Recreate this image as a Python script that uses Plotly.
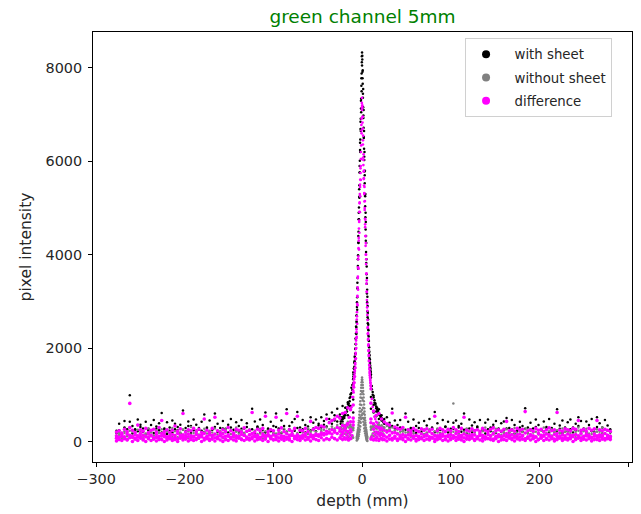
import plotly.graph_objects as go

# ---------------- background band: depth positions (mm) ----------------
depth_mm = [
    -277, -274, -271, -268, -265, -262, -259, -256, -253, -250,
    -247, -244, -241, -238, -235, -232, -229, -226, -223, -220,
    -217, -214, -211, -208, -205, -202, -199, -196, -193, -190,
    -187, -184, -181, -178, -175, -172, -169, -166, -163, -160,
    -157, -154, -151, -148, -145, -142, -139, -136, -133, -130,
    -127, -124, -121, -118, -115, -112, -109, -106, -103, -100,
    -97, -94, -91, -88, -85, -82, -79, -76, -73, -70,
    -67, -64, -61, -58, -55, -52, -49, -46, -43, -40,
    -37, -34, -31, -28, -25, -22, -19, -16, -13, -10,
    10, 13, 16, 19, 22, 25, 28, 31, 34, 37,
    40, 43, 46, 49, 52, 55, 58, 61, 64, 67,
    70, 73, 76, 79, 82, 85, 88, 91, 94, 97,
    100, 103, 106, 109, 112, 115, 118, 121, 124, 127,
    130, 133, 136, 139, 142, 145, 148, 151, 154, 157,
    160, 163, 166, 169, 172, 175, 178, 181, 184, 187,
    190, 193, 196, 199, 202, 205, 208, 211, 214, 217,
    220, 223, 226, 229, 232, 235, 238, 241, 244, 247,
    250, 253, 256, 259, 262, 265, 268, 271, 274, 277,
    280,
]

with_sheet_a = [
    230, 380, 180, 440, 260, 990, 330, 250, 470, 360,
    280, 420, 240, 350, 460, 270, 390, 607, 250, 410,
    300, 450, 380, 240, 360, 665, 290, 430, 330, 470,
    360, 250, 420, 575, 300, 450, 260, 600, 380, 290,
    440, 270, 360, 480, 250, 410, 330, 460, 280, 390,
    250, 700, 430, 300, 470, 350, 620, 260, 420, 330,
    600, 280, 450, 330, 690, 260, 410, 480, 630, 300,
    460, 350, 280, 520, 400, 470, 380, 520, 440, 575,
    480, 620, 560, 700, 580, 760, 720, 840, 760, 900,
    950, 780, 640, 690, 560, 480, 520, 400, 700, 450,
    350, 460, 280, 600, 420, 290, 470, 330, 400, 260,
    440, 340, 480, 270, 630, 390, 250, 460, 320, 420,
    270, 400, 450, 300, 380, 600, 260, 470, 340, 410,
    320, 460, 250, 400, 470, 300, 360, 440, 280, 390,
    430, 500, 290, 460, 350, 270, 420, 330, 710, 300,
    400, 280, 470, 350, 260, 430, 310, 480, 290, 380,
    690, 340, 450, 260, 410, 470, 300, 380, 520, 440,
    280, 430, 350, 480, 260, 520, 390, 300, 460, 340,
    260,
]

with_sheet_b = [
    180, 240, 150, 300, 210, 420, 170, 260, 220, 310,
    200, 150, 270, 230, 180, 320, 240, 190, 280, 160,
    230, 190, 260, 310, 170, 250, 220, 330, 180, 240,
    160, 290, 230, 200, 270, 180, 250, 310, 200, 170,
    280, 220, 190, 300, 160, 240, 210, 270, 180, 310,
    230, 260, 170, 320, 200, 250, 190, 280, 220, 170,
    310, 240, 180, 260, 210, 330, 170, 230, 290, 200,
    260, 190, 320, 240, 280, 220, 340, 300, 360, 320,
    410, 380, 450, 430, 520, 480, 600, 560, 680, 620,
    700, 620, 540, 480, 450, 380, 360, 310, 330, 280,
    260, 300, 220, 250, 190, 270, 230, 180, 290, 210,
    250, 170, 230, 300, 200, 260, 180, 240, 310, 190,
    220, 270, 180, 330, 210, 250, 160, 280, 200, 240,
    300, 190, 230, 170, 260, 220, 310, 180, 250, 200,
    240, 280, 190, 260, 170, 230, 300, 210, 270, 180,
    260, 200, 310, 170, 240, 220, 280, 190, 250, 230,
    200, 270, 180, 300, 220, 260, 190, 240, 330, 210,
    250, 180, 290, 220, 200, 310, 240, 170, 260, 230,
    190,
]

without_sheet_a = [
    120, 180, 90, 220, 150, 300, 200, 160, 250, 140,
    230, 170, 280, 190, 130, 240, 180, 260, 150, 210,
    170, 290, 140, 230, 190, 250, 160, 220, 310, 180,
    240, 150, 200, 270, 170, 230, 190, 280, 150, 220,
    180, 260, 140, 230, 190, 300, 170, 240, 160, 210,
    250, 180, 230, 160, 270, 190, 220, 150, 260, 200,
    170, 240, 190, 280, 160, 230, 200, 260, 180, 250,
    210, 170, 290, 200, 240, 180, 270, 220, 250, 300,
    260, 320, 280, 350, 300, 380, 330, 420, 360, 300,
    320, 380, 300, 400, 340, 290, 330, 260, 300, 240,
    270, 210, 250, 190, 260, 220, 180, 240, 200, 170,
    230, 190, 260, 160, 220, 280, 180, 240, 200, 260,
    190, 815, 230, 170, 250, 200, 280, 160, 230, 190,
    260, 180, 220, 300, 170, 240, 200, 270, 150, 230,
    190, 260, 170, 230, 290, 180, 240, 200, 260, 170,
    230, 190, 270, 160, 240, 300, 180, 220, 260, 190,
    240, 170, 280, 200, 230, 180, 260, 210, 300, 190,
    220, 270, 170, 240, 190, 260, 210, 300, 180, 230,
    200,
]

without_sheet_b = [
    90, 140, 60, 180, 110, 230, 80, 150, 120, 200,
    70, 160, 100, 210, 130, 80, 190, 110, 170, 60,
    140, 100, 220, 90, 160, 120, 200, 70, 150, 110,
    180, 60, 140, 200, 100, 170, 80, 150, 230, 120,
    70, 190, 110, 160, 90, 210, 130, 60, 180, 100,
    150, 80, 200, 120, 170, 70, 140, 230, 100, 160,
    90, 190, 130, 60, 210, 110, 170, 80, 150, 120,
    190, 100, 160, 230, 140, 210, 120, 250, 180, 220,
    200, 280, 240, 310, 270, 340, 300, 380, 320, 280,
    300, 340, 280, 350, 260, 300, 240, 280, 200, 230,
    180, 150, 220, 120, 190, 100, 170, 140, 210, 90,
    160, 130, 200, 80, 150, 190, 110, 170, 60, 140,
    120, 210, 90, 160, 130, 70, 190, 110, 150, 200,
    80, 170, 130, 60, 210, 100, 150, 190, 90, 140,
    170, 120, 200, 80, 160, 110, 220, 140, 70, 180,
    130, 90, 210, 150, 110, 190, 60, 160, 130, 200,
    100, 180, 140, 70, 210, 120, 160, 90, 230, 150,
    110, 190, 80, 160, 130, 210, 100, 170, 60, 140,
    120,
]

difference_1 = [
    10, 40, 20, 60, 30, 80, 0, 50, 20, 70,
    30, 0, 60, 20, 50, 10, 70, 40, 0, 30,
    60, 20, 40, 0, 70, 30, 50, 10, 60, 20,
    40, 80, 0, 30, 60, 20, 50, 10, 70, 30,
    0, 50, 20, 60, 30, 10, 70, 40, 20, 50,
    30, 60, 10, 40, 70, 20, 50, 0, 60, 30,
    40, 10, 70, 20, 50, 30, 0, 60, 40, 20,
    70, 30, 50, 10, 60, 40, 20, 80, 30, 60,
    40, 90, 60, 30, 80, 50, 70, 40, 60, 350,
    50, 30, 70, 20, 60, 40, 10, 50, 30, 70,
    20, 60, 40, 0, 50, 30, 70, 10, 40, 60,
    20, 50, 30, 70, 0, 40, 60, 20, 50, 10,
    40, 70, 20, 60, 30, 0, 50, 40, 70, 20,
    60, 30, 10, 50, 70, 40, 20, 60, 0, 30,
    50, 20, 70, 40, 10, 60, 30, 50, 20, 70,
    30, 60, 0, 40, 70, 20, 50, 30, 60, 10,
    40, 70, 20, 50, 30, 60, 0, 40, 70, 20,
    50, 30, 60, 10, 40, 70, 20, 50, 30, 60,
    40,
]

difference_2 = [
    70, 50, 110, 80, 40, 130, 90, 60, 120, 100,
    50, 110, 80, 130, 60, 90, 40, 120, 100, 70,
    110, 60, 90, 50, 130, 80, 120, 100, 40, 90,
    60, 120, 100, 70, 110, 50, 130, 80, 60, 120,
    90, 40, 110, 80, 120, 70, 100, 50, 130, 90,
    60, 100, 130, 70, 50, 110, 80, 120, 90, 40,
    120, 80, 50, 110, 90, 60, 130, 70, 100, 50,
    90, 120, 60, 100, 80, 130, 110, 150, 140, 160,
    180, 160, 200, 170, 220, 190, 240, 210, 250, 420,
    400, 260, 200, 180, 150, 120, 90, 130, 70, 110,
    50, 100, 80, 120, 60, 130, 90, 40, 110, 70,
    100, 130, 60, 90, 50, 120, 80, 110, 40, 100,
    70, 120, 90, 50, 130, 80, 60, 110, 100, 40,
    90, 130, 70, 100, 60, 120, 50, 80, 110, 90,
    40, 100, 130, 70, 110, 60, 90, 120, 50, 80,
    120, 70, 100, 40, 90, 130, 60, 110, 80, 50,
    110, 90, 60, 120, 70, 100, 130, 50, 90, 80,
    60, 120, 100, 70, 110, 40, 90, 130, 60, 100,
    80,
]

difference_3 = [
    120, 90, 150, 100, 160, 300, 110, 140, 90, 170,
    130, 100, 160, 120, 80, 150, 110, 170, 140, 100,
    90, 150, 120, 170, 100, 140, 80, 160, 120, 110,
    150, 100, 130, 170, 90, 140, 120, 160, 100, 130,
    160, 110, 140, 90, 170, 120, 100, 150, 130, 80,
    140, 170, 100, 130, 90, 160, 120, 150, 110, 140,
    100, 160, 120, 90, 170, 130, 150, 110, 140, 100,
    130, 170, 90, 150, 120, 160, 140, 180, 170, 220,
    200, 250, 230, 300, 270, 340, 320, 380, 420, 500,
    480, 380, 320, 300, 280, 240, 200, 230, 180, 190,
    160, 120, 150, 100, 140, 170, 110, 130, 90, 160,
    120, 150, 100, 170, 130, 90, 140, 160, 110, 130,
    150, 100, 170, 120, 90, 160, 130, 110, 150, 140,
    100, 160, 130, 90, 150, 120, 170, 110, 140, 100,
    130, 170, 110, 150, 90, 140, 160, 120, 180, 100,
    150, 120, 90, 170, 130, 110, 160, 140, 100, 150,
    170, 110, 140, 90, 160, 130, 100, 150, 120, 170,
    110, 150, 130, 90, 160, 120, 140, 100, 170, 130,
    110,
]

difference_4 = [
    200, 230, 180, 260, 210, 815, 240, 190, 350, 250,
    220, 280, 190, 240, 260, 200, 300, 450, 210, 250,
    190, 240, 330, 220, 270, 600, 200, 250, 230, 280,
    210, 260, 190, 480, 240, 200, 280, 520, 230, 190,
    250, 210, 300, 230, 180, 260, 240, 200, 290, 220,
    240, 620, 200, 260, 230, 280, 540, 210, 250, 230,
    520, 240, 290, 210, 600, 250, 220, 280, 540, 240,
    230, 280, 210, 430, 260, 300, 280, 330, 310, 480,
    400, 450, 480, 540, 500, 600, 620, 720, 680, 780,
    820, 650, 560, 600, 480, 420, 380, 350, 610, 310,
    280, 260, 300, 520, 250, 230, 280, 240, 210, 270,
    240, 270, 220, 260, 540, 230, 280, 250, 210, 260,
    230, 300, 250, 210, 280, 520, 240, 220, 270, 230,
    250, 220, 280, 240, 210, 260, 290, 230, 250, 220,
    260, 430, 230, 250, 220, 280, 240, 260, 640, 230,
    250, 220, 280, 240, 260, 210, 250, 290, 230, 250,
    620, 240, 220, 270, 250, 230, 280, 260, 450, 240,
    260, 220, 280, 240, 270, 450, 250, 230, 260, 240,
    220,
]

# ---------------- central peak ----------------
peak_depth = [
    -24, -23, -22, -21, -20, -19, -18, -17, -16, -15, -14, -13, -12, -11,
    -10, -9.75, -9.5, -9.25, -9, -8.75, -8.5, -8.25, -8, -7.75,
    -7.5, -7.25, -7, -6.75, -6.5, -6.25, -6, -5.75, -5.5, -5.25,
    -5, -4.75, -4.5, -4.25, -4, -3.75, -3.5, -3.25, -3, -2.75,
    -2.5, -2.25, -2, -1.75, -1.5, -1.25, -1, -0.75, -0.5, -0.25,
    0,
    0.25, 0.5, 0.75, 1, 1.25, 1.5, 1.75, 2, 2.25, 2.5,
    2.75, 3, 3.25, 3.5, 3.75, 4, 4.25, 4.5, 4.75, 5,
    5.25, 5.5, 5.75, 6, 6.25, 6.5, 6.75, 7, 7.25, 7.5,
    7.75, 8, 8.25, 8.5, 8.75, 9, 9.25, 9.5, 9.75, 10,
    11, 12, 13, 14, 15, 16, 17, 18, 19, 20, 21, 22, 23, 24,
]

peak_with_a = [
    430, 470, 480, 530, 550, 610, 630, 700, 730, 810, 860, 960, 1040, 1210,
    1330, 1390, 1440, 1480, 1560, 1600, 1680, 1730, 1800, 1880,
    1990, 2090, 2210, 2320, 2440, 2570, 2690, 2880, 3090, 3290,
    3500, 3760, 3990, 4260, 4490, 4760, 5010, 5240, 5490, 5760,
    6010, 6240, 6470, 6690, 6910, 7130, 7340, 7620, 7880, 8120,
    8330,
    8180, 7920, 7660, 7360, 7160, 6930, 6720, 6500, 6270, 6030,
    5780, 5530, 5280, 5040, 4800, 4540, 4300, 4060, 3820, 3580,
    3380, 3170, 2980, 2790, 2660, 2530, 2410, 2280, 2170, 2060,
    1960, 1870, 1790, 1720, 1650, 1590, 1530, 1480, 1420, 1370,
    1190, 1060, 940, 880, 790, 750, 680, 650, 590, 570, 510, 500, 450, 440,
]

peak_with_b = [
    380, 520, 430, 600, 500, 560, 720, 640, 800, 760, 930, 1010, 1150, 1100,
    1250, 1480, 1350, 1560, 1460, 1700, 1560, 1820, 1690, 1980,
    1880, 2200, 2080, 2460, 2300, 2700, 2540, 2980, 2820, 3400,
    3270, 3900, 3700, 4400, 4250, 4900, 4760, 5400, 5220, 5900,
    5760, 6400, 6200, 6850, 6650, 7300, 7050, 7780, 7500, 8250,
    8050,
    8260, 7780, 7950, 7450, 7550, 6980, 7100, 6520, 6650, 6100,
    6200, 5700, 5800, 5250, 5300, 4900, 4700, 4400, 4250, 3900,
    3750, 3500, 3250, 3100, 2900, 2750, 2620, 2500, 2380, 2250,
    2150, 2020, 1920, 1840, 1760, 1680, 1620, 1560, 1500, 1440,
    1120, 1000, 980, 830, 820, 710, 720, 620, 610, 560, 540, 480, 470, 410,
]

peak_without_a = [
    300, 260, 330, 280, 310, 350, 290, 320, 370, 300, 340, 280, 310, 260,
    240, None, None, None, None, None, None, None, None, None,
    None, None, None, None, None, None, 80, 110, 140, 170,
    200, 230, 260, 300, 350, 400, 450, 510, 570, 640,
    710, 790, 860, 940, 1010, 1080, 1150, 1210, 1270, 1320,
    1370,
    1320, 1270, 1210, 1150, 1080, 1010, 940, 860, 790, 710,
    640, 570, 510, 450, 400, 350, 300, 260, 230, 200,
    170, 140, 110, 80, None, None, None, None, None, None,
    None, None, None, None, None, None, None, None, None, 250,
    280, 320, 290, 350, 310, 330, 280, 360, 300, 320, 270, 340, 290, 310,
]

peak_without_b = [
    150, 200, 120, 180, 90, 160, 210, 130, 170, 100, 190, 140, 60, 110,
    80, None, None, None, None, None, None, None, None, None,
    None, None, None, None, None, None, 20, 60, 30, 90,
    50, 120, 70, 160, 110, 210, 150, 260, 200, 330,
    250, 420, 320, 520, 400, 640, 480, 780, 560, 930,
    680,
    1050, 600, 880, 500, 720, 420, 600, 350, 480, 280,
    380, 220, 300, 170, 230, 120, 170, 80, 120, 40,
    70, 20, 50, 10, None, None, None, None, None, None,
    None, None, None, None, None, None, None, None, None, 90,
    130, 170, 110, 200, 140, 180, 100, 210, 160, 120, 190, 150, 230, 170,
]

peak_difference_a = [
    130, 210, 150, 250, 240, 260, 340, 380, 360, 510, 520, 680, 730, 950,
    1090, 1160, 1210, 1250, 1330, 1370, 1450, 1500, 1570, 1650,
    1760, 1860, 1980, 2090, 2210, 2340, 2610, 2770, 2950, 3120,
    3300, 3530, 3730, 3960, 4140, 4360, 4560, 4730, 4920, 5120,
    5300, 5450, 5610, 5750, 5900, 6050, 6340, 6660, 6910, 7150,
    7360,
    7160, 6950, 6700, 6360, 6080, 5920, 5780, 5640, 5480, 5320,
    5140, 4960, 4770, 4590, 4400, 4190, 4000, 3800, 3590, 3380,
    3210, 3030, 2870, 2710, 2430, 2300, 2180, 2050, 1940, 1830,
    1730, 1640, 1560, 1490, 1420, 1360, 1300, 1250, 1190, 1120,
    910, 740, 650, 530, 480, 420, 400, 290, 290, 250, 240, 160, 160, 130,
]

peak_difference_b = [
    60, 120, 30, 180, 90, 40, 150, 70, 110, 20, 160, 80, 200, 130,
    950, 1180, 1050, 1260, 1160, 1400, 1260, 1520, 1390, 1680,
    1580, 1900, 1780, 2160, 2000, 2400, 2240, 2680, 2520, 3100,
    2920, 3500, 3250, 3900, 3700, 4300, 4110, 4700, 4470, 5100,
    4910, 5500, 5250, 5850, 5600, 6200, 6050, 6780, 6600, 7250,
    7100,
    7200, 6830, 6950, 6450, 6550, 6030, 6150, 5620, 5800, 5300,
    5450, 5000, 5150, 4650, 4750, 4400, 4250, 4000, 3900, 3600,
    3450, 3200, 2950, 2800, 2600, 2450, 2320, 2200, 2080, 1950,
    1850, 1720, 1620, 1540, 1460, 1380, 1320, 1260, 1200, 1140,
    100, 40, 170, 60, 130, 20, 90, 150, 50, 120, 70, 180, 30, 110,
]

series_names = ["with sheet", "without sheet", "difference"]
series_colors = ["#000000", "#808080", "#ff00ff"]
x_ticks = [-300, -200, -100, 0, 100, 200, 300]
x_tick_text = ["\u2212300", "\u2212200", "\u2212100", "0", "100", "200", "300"]
y_ticks = [0, 2000, 4000, 6000, 8000]

for nm, arr in [("wa", with_sheet_a), ("wb", with_sheet_b), ("woa", without_sheet_a),
                ("wob", without_sheet_b), ("d1", difference_1), ("d2", difference_2),
                ("d3", difference_3), ("d4", difference_4)]:
    assert len(arr) == len(depth_mm), (nm, len(arr), len(depth_mm))
for nm, arr in [("pwa", peak_with_a), ("pwb", peak_with_b), ("pwoa", peak_without_a),
                ("pwob", peak_without_b), ("pda", peak_difference_a), ("pdb", peak_difference_b)]:
    assert len(arr) == len(peak_depth), (nm, len(arr), len(peak_depth))

FONT = "DejaVu Sans"
fig = go.Figure()

fig.add_trace(go.Scatter(
    x=depth_mm * 2 + peak_depth * 2,
    y=with_sheet_a + with_sheet_b + peak_with_a + peak_with_b,
    mode="markers", marker=dict(color=series_colors[0], size=2.5, line=dict(width=0)),
    showlegend=False, hoverinfo="skip"))
fig.add_trace(go.Scatter(
    x=depth_mm * 2 + peak_depth * 2,
    y=without_sheet_a + without_sheet_b + peak_without_a + peak_without_b,
    mode="markers", marker=dict(color=series_colors[1], size=2.5, line=dict(width=0)),
    showlegend=False, hoverinfo="skip"))
fig.add_trace(go.Scatter(
    x=depth_mm * 4,
    y=difference_1 + difference_2 + difference_3 + difference_4,
    mode="markers", marker=dict(color=series_colors[2], size=3.6, line=dict(width=0)),
    showlegend=False, hoverinfo="skip"))
fig.add_trace(go.Scatter(
    x=peak_depth * 2,
    y=peak_difference_a + peak_difference_b,
    mode="markers", marker=dict(color=series_colors[2], size=2.7, line=dict(width=0)),
    showlegend=False, hoverinfo="skip"))

for nm, col in zip(series_names, series_colors):
    fig.add_trace(go.Scatter(
        x=[None], y=[None], mode="markers", name="\u00a0\u00a0" + nm, legendgroup=nm,
        marker=dict(color=col, size=8)))

fig.update_layout(
    width=641, height=514,
    margin=dict(l=93, r=9, t=32, b=52),
    paper_bgcolor="white", plot_bgcolor="white",
    font=dict(family=FONT, size=14.4, color="#262626"),
    title=dict(text="green channel 5mm", font=dict(family=FONT, size=18.5, color="green"),
               x=0.5, xref="paper", xanchor="center", y=1 - 17 / 514, yanchor="middle"),
    showlegend=True,
    legend=dict(x=0.963, y=0.986, xanchor="right", yanchor="top",
                bgcolor="rgba(255,255,255,0.8)", bordercolor="#d0d0d0", borderwidth=1,
                font=dict(family=FONT, size=13.3, color="#262626"),
                traceorder="grouped", tracegroupgap=3, itemwidth=30),
)
fig.update_xaxes(
    range=[-303.5, 304.5], tickmode="array", tickvals=x_ticks, ticktext=x_tick_text,
    showline=True, mirror=True, linecolor="black", linewidth=1,
    ticks="outside", ticklen=4, tickwidth=1, tickcolor="black",
    showgrid=False, zeroline=False,
    title=dict(text="depth (mm)", font=dict(family=FONT, size=15.5), standoff=8),
)
fig.update_yaxes(
    range=[-440, 8770], tickmode="array", tickvals=y_ticks,
    showline=True, mirror=True, linecolor="black", linewidth=1,
    ticks="outside", ticklen=4, tickwidth=1, tickcolor="black",
    ticklabelstandoff=3,
    showgrid=False, zeroline=False,
    title=dict(text="pixel intensity", font=dict(family=FONT, size=15.5), standoff=10),
)

fig.write_html("out.html")
